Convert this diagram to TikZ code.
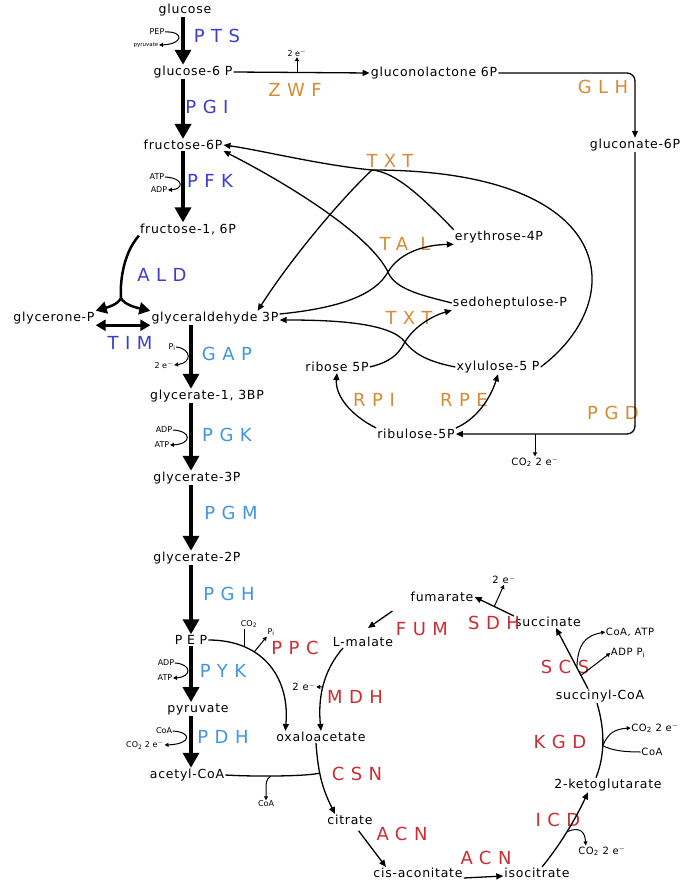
\documentclass[tikz,border=0pt]{standalone}
\usepackage{fontspec}
\setmainfont{DejaVu Sans}
\newfontfamily\metfont[LetterSpace=6]{DejaVu Sans}
\newfontfamily\enzfont[LetterSpace=36]{DejaVu Sans}
\usetikzlibrary{arrows.meta,calc}
\definecolor{glycblue}{RGB}{60,60,210}
\definecolor{lowblue}{RGB}{65,150,228}
\definecolor{pppor}{RGB}{214,140,52}
\definecolor{tcared}{RGB}{205,45,50}

\begin{document}
\begin{tikzpicture}[x=1pt,y=-1pt,
    met/.style={font=\metfont\fontsize{12.5}{14}\selectfont, inner sep=1pt},
    enz/.style={font=\enzfont\fontsize{18}{20}\selectfont, inner sep=0pt},
    cof/.style={font=\fontsize{8}{9}\selectfont, inner sep=0.5pt},
    cofl/.style={font=\metfont\fontsize{10}{12}\selectfont, inner sep=0.5pt},
    main/.style={-{Triangle[length=15pt,width=16pt]}, line width=3.5pt},
    mid/.style={-{Triangle[length=11pt,width=12pt]}, line width=2.5pt},
    flux/.style={-{Triangle[length=7pt,width=6pt]}, line width=1.3pt},
    side/.style={-{Triangle[length=4pt,width=4pt]}, line width=1pt}
]
    \useasboundingbox (0,0) rectangle (700,888);

    % Glycolysis
    \node[met] (glc) at (185,10) {glucose};
    \node[met] (g6p) at (193,72) {glucose-6 P};
    \node[met] (f6p) at (183,145) {fructose-6P};
    \node[met] (f16p) at (188,229) {fructose-1, 6P};
    \node[met] (dhap) at (54,318) {glycerone-P};
    \node[met] (gap3p) at (215,318) {glyceraldehyde 3P};
    \node[met] (bpg) at (207,396) {glycerate-1, 3BP};
    \node[met] (pg3) at (197,478) {glycerate-3P};
    \node[met] (pg2) at (197,558) {glycerate-2P};
    \node[met] (pep) at (191,640) {P E P};
    \node[met] (pyr) at (198,709) {pyruvate};
    \node[met] (accoa) at (187,775) {acetyl-CoA};

    % Pentose phosphate
    \node[met] (gl6p) at (434,73) {gluconolactone 6P};
    \node[met] (gnt6p) at (635,145) {gluconate-6P};
    \node[met] (e4p) at (499,237) {erythrose-4P};
    \node[met] (s7p) at (510,303) {sedoheptulose-P};
    \node[met] (r5p) at (337,367) {ribose 5P};
    \node[met] (x5p) at (498,367) {xylulose-5 P};
    \node[met] (ru5p) at (416,434) {ribulose-5P};

    % TCA
    \node[met] (oaa) at (321,737) {oxaloacetate};
    \node[met] (cit) at (350,820) {citrate};
    \node[met] (cisac) at (418,873) {cis-aconitate};
    \node[met] (icit) at (537,873) {isocitrate};
    \node[met] (akg) at (608,785) {2-ketoglutarate};
    \node[met] (succoa) at (600,696) {succinyl-CoA};
    \node[met] (succ) at (548,622) {succinate};
    \node[met] (fum) at (442,597) {fumarate};
    \node[met] (mal) at (363,642) {L-malate};

    % Enzymes
    \node[enz, text=glycblue] (pts) at (217,36) {PTS};
    \node[enz, text=glycblue] (pgi) at (207,107) {PGI};
    \node[enz, text=glycblue] (pfk) at (210,181) {PFK};
    \node[enz, text=glycblue] (ald) at (162,275) {ALD};
    \node[enz, text=glycblue] (tim) at (130,343) {TIM};
    \node[enz, text=lowblue] (gapdh) at (227,354) {GAP};
    \node[enz, text=lowblue] (pgk) at (227,435) {PGK};
    \node[enz, text=lowblue] (pgm) at (231,513) {PGM};
    \node[enz, text=lowblue] (pgh) at (229,594) {PGH};
    \node[enz, text=lowblue] (pyk) at (223,671) {PYK};
    \node[enz, text=lowblue] (pdh) at (223,737) {PDH};
    \node[enz, text=pppor] (zwf) at (295,90) {ZWF};
    \node[enz, text=pppor] (glh) at (603,87) {GLH};
    \node[enz, text=pppor] (txt1l) at (390,161) {TXT};
    \node[enz, text=pppor] (tall) at (405,244) {TA L};
    \node[enz, text=pppor] (txt2l) at (409,318) {TXT};
    \node[enz, text=pppor] (rpi) at (374,400) {RPI};
    \node[enz, text=pppor] (rpe) at (464,400) {RPE};
    \node[enz, text=pppor] (pgd) at (613,413) {PGD};
    \node[enz, text=tcared] (ppc) at (295,648) {PPC};
    \node[enz, text=tcared] (mdh) at (355,697) {MDH};
    \node[enz, text=tcared] (fumase) at (422,629) {FUM};
    \node[enz, text=tcared] (sdh) at (494,623) {SDH};
    \node[enz, text=tcared] (scs) at (565,667) {SCS};
    \node[enz, text=tcared] (kgd) at (560,742) {KGD};
    \node[enz, text=tcared] (csn) at (357,774) {CSN};
    \node[enz, text=tcared] (acn1) at (402,834) {ACN};
    \node[enz, text=tcared] (acn2) at (486,858) {ACN};
    \node[enz, text=tcared] (icd) at (558,820) {ICD};

    % Cofactors
    \node[cof] (pepc) at (157,32) {PEP};
    \node[cof, font=\fontsize{5.5}{6}\selectfont] (pyrc) at (146,45) {pyruvate};
    \node[cof] (atp1) at (157,177) {ATP};
    \node[cof] (adp1) at (159,190) {ADP};
    \node[cof] (pi1) at (172,347) {P\textsubscript{i}};
    \node[cof] (e1) at (164,365) {2 e$^-$};
    \node[cof] (adp2) at (164,430) {ADP};
    \node[cof] (atp2) at (162,445) {ATP};
    \node[cof] (adp3) at (166,663) {ADP};
    \node[cof] (atp3) at (165,678) {ATP};
    \node[cof] (coa1) at (164,731) {CoA};
    \node[cof] (co2a) at (145,745) {CO\textsubscript{2} 2 e$^-$};
    \node[cof] (e2) at (297,53) {2 e$^-$};
    \node[cofl] (co2b) at (535,462) {CO\textsubscript{2} 2 e$^-$};
    \node[cof] (co2c) at (249,624) {CO\textsubscript{2}};
    \node[cof] (pi2) at (271,632) {P\textsubscript{i}};
    \node[cofl] (e3) at (304,687) {2 e$^-$};
    \node[cof] (coa2) at (266,804) {CoA};
    \node[cofl] (e4) at (504,580) {2 e$^-$};
    \node[cofl] (coaatp) at (630,632) {CoA, ATP};
    \node[cofl] (adppi) at (628,653) {ADP P\textsubscript{i}};
    \node[cofl] (co2d) at (655,728) {CO\textsubscript{2} 2 e$^-$};
    \node[cofl] (coa3) at (652,752) {CoA};
    \node[cofl] (co2e) at (602,851) {CO\textsubscript{2} 2 e$^-$};

    % Glycolysis trunk
    \draw[main] (glc.south -| f6p) -- (g6p.north -| f6p);
    \draw[main] (g6p.south -| f6p) -- (f6p.north);
    \draw[main] (f6p.south) -- (f16p.north -| f6p);
    \draw[main] (gap3p.south -| pep) -- (bpg.north -| pep);
    \draw[main] (bpg.south -| pep) -- (pg3.north -| pep);
    \draw[main] (pg3.south -| pep) -- (pg2.north -| pep);
    \draw[main] (pg2.south -| pep) -- (pep.north);
    \draw[main] (pep.south) -- (pyr.north -| pep);
    \draw[main] (pyr.south -| pep) -- (accoa.north -| pep);

    \draw[side] (pepc.east) .. controls (184,31) and (184,44) .. (pyrc.east);
    \draw[side] (atp1.east) .. controls (184,178) and (184,189) .. (adp1.east);
    \draw[side] (pi1.east) .. controls (192,349) and (192,363) .. (e1.east);
    \draw[side] (adp2.east) .. controls (192,431) and (192,444) .. (atp2.east);
    \draw[side] (adp3.east) .. controls (192,664) and (192,677) .. (atp3.east);
    \draw[side] (coa1.east) .. controls (192,732) and (192,744) .. (co2a.east);

    % ALD, TIM
    \coordinate (aldj) at (121,298);
    \draw[mid] (f16p.south west) .. controls (122,255) and (120,285) .. (aldj)
        .. controls (118,305) and (105,308) .. (dhap.north east);
    \draw[mid] (aldj) .. controls (124,305) and (138,308) .. (gap3p.north west);
    \draw[{Triangle[length=10pt,width=11pt]}-{Triangle[length=10pt,width=11pt]}, line width=2.5pt]
        (dhap.south east) -- (gap3p.south west);

    % Pentose phosphate
    \draw[flux] (g6p.east) -- (gl6p.west);
    \draw[side] (e2.south |- g6p.east) -- (e2.south);
    \draw[flux, rounded corners=8pt] (gl6p.east) -| (gnt6p.north);
    \draw[flux, rounded corners=8pt] (gnt6p.south) |- (ru5p.east);
    \draw[side] (co2b.north |- ru5p.east) -- (co2b.north);

    \coordinate (txtj) at (372,170);
    \draw[flux] (x5p.east) .. controls (630,300) and (620,170) .. (txtj)
        .. controls (320,165) and (260,150) .. (f6p.east);
    \draw[flux] (e4p.north west) .. controls (420,195) and (395,172) .. (txtj)
        .. controls (340,200) and (290,260) .. ([xshift=-22pt]gap3p.north east);

    \coordinate (talj) at (388,272);
    \draw[flux] (s7p.west) .. controls (425,296) and (395,290) .. (talj)
        .. controls (370,235) and (290,185) .. (f6p.south east);
    \draw[flux] ([yshift=4pt]gap3p.east) .. controls (340,308) and (375,295) .. (talj)
        .. controls (398,255) and (420,245) .. (e4p.south west);

    \coordinate (txtk) at (405,342);
    \draw[flux] (r5p.east) .. controls (390,362) and (398,355) .. (txtk)
        .. controls (415,325) and (435,315) .. (s7p.south west);
    \draw[flux] (x5p.west) .. controls (430,362) and (415,355) .. (txtk)
        .. controls (390,322) and (330,320) .. ([yshift=-2pt]gap3p.east);

    \draw[flux] (ru5p.north west) .. controls (350,415) and (335,395) .. (r5p.south);
    \draw[flux] (ru5p.north east) .. controls (475,420) and (490,400) .. (x5p.south);

    % TCA
    \draw[flux] (pep.east) .. controls (265,640) and (290,680) .. ([xshift=10pt]oaa.north west)
        node[pos=.25,coordinate] (ppca) {} node[pos=.33,coordinate] (ppcb) {};
    \draw[line width=1pt] (ppca) -- (ppca |- co2c.south);
    \draw[side] (ppcb) -- (pi2.south west);

    \draw[flux] ([xshift=-20pt]mal.south) .. controls (322,672) and (318,700) .. (oaa.north)
        node[pos=.5,coordinate] (mdhb) {};
    \draw[side] (mdhb) -- (e3.east);

    \draw[flux] ($(fum.south west)+(-17,8)$) -- ($(mal.north)+(5,-8)$);
    \draw[flux] (succ.north west) -- (fum.east) node[pos=.5,coordinate] (sdhb) {};
    \draw[side] (sdhb) -- (e4.south);

    \draw[flux] ([xshift=-12pt]succoa.north) -- ([xshift=8pt]succ.south)
        node[pos=.35,coordinate] (scsa) {} node[pos=.22,coordinate] (scsb) {};
    \draw[side] (scsa) .. controls (578,645) and (584,636) .. (coaatp.west);
    \draw[side] (scsb) -- (adppi.west);

    \draw[line width=1.3pt] ([xshift=-12pt]akg.north) .. controls (605,755) and (605,730) .. ([xshift=-3pt]succoa.south)
        node[pos=.45,coordinate] (kgdb) {};
    \draw[side] (kgdb) .. controls (608,733) and (615,729) .. (co2d.west);
    \draw[line width=1pt] (kgdb) .. controls (608,748) and (615,752) .. (coa3.west);

    \draw[flux] ([xshift=5pt]icit.north) .. controls (560,845) and (575,820) .. ([xshift=-20pt]akg.south)
        node[pos=.5,coordinate] (icdb) {};
    \draw[side] (icdb) .. controls (580,826) and (585,832) .. ([xshift=8pt]co2e.north west);

    \draw[flux, shorten <=6pt] ([xshift=5pt]cit.south) -- ([xshift=-32pt]cisac.north);
    \draw[flux] ([yshift=-5pt]cisac.east) -- ([yshift=-3pt]icit.west);

    \draw[flux] ([xshift=-5pt]oaa.south) .. controls (318,772) and (322,788) .. ([xshift=-15pt]cit.north)
        node[pos=.4,coordinate] (csnj) {};
    \draw[line width=1.3pt] (accoa.east) .. controls (260,777) and (310,776) .. (csnj)
        node[pos=.4,coordinate] (csnb) {};
    \draw[side] (csnb) .. controls (266,780) .. (coa2.north);
\end{tikzpicture}
\end{document}
